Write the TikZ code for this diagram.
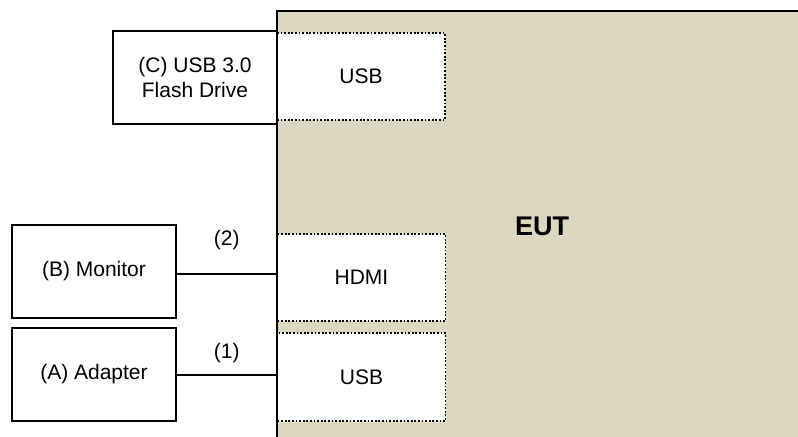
\documentclass[tikz,border=0pt]{standalone}
\usepackage{fontspec}
\setmainfont{Liberation Sans}
\usetikzlibrary{positioning}
\definecolor{eutfill}{HTML}{DCD7C1}

\begin{document}
\begin{tikzpicture}[
	x=0.5pt,
	y=-0.5pt,
	font=\fontsize{10.5}{12.5}\selectfont,
	align=center,
	device/.style={
		draw,
		line width=1pt,
		fill=white,
		inner sep=0pt,
		minimum width=82pt,
		minimum height=46.5pt
	},
	port/.style={
		draw,
		line width=0.9pt,
		dash pattern=on 0.9pt off 0.9pt,
		fill=white,
		inner sep=0pt,
		minimum width=84pt,
		minimum height=43.5pt
	},
	cable/.style={line width=0.6pt}]

   \useasboundingbox (0,0) rectangle (798,436);

   % EUT area, only top and left border visible
   \fill[eutfill] (277,11) rectangle (800,440);
   \draw[line width=1.1pt] (277,440) -- (277,11) -- (800,11);
   \node[font=\fontsize{13.5}{16}\selectfont\bfseries] (eut) at (542,226) {EUT};

   \node[port] (usbc) at (361,76.5) {USB};
   \node[port] (hdmi) at (361.5,277.5) {HDMI};
   \node[port, minimum height=44pt] (usba) at (361.5,377) {USB};

   \node[device] (flash) at (195,77.5) {(C) USB 3.0\\Flash Drive};
   \node[device] (monitor) at (94,271.5) {(B) Monitor};
   \node[device] (adapter) at (94,374.5) {(A) Adapter};

   \draw[cable] (monitor.east |- 0,274) -- node[yshift=17pt] {(2)} (hdmi.west |- 0,274);
   \draw[cable] (adapter.east |- 0,375) -- node[yshift=11pt] {(1)} (usba.west |- 0,375);
\end{tikzpicture}
\end{document}
